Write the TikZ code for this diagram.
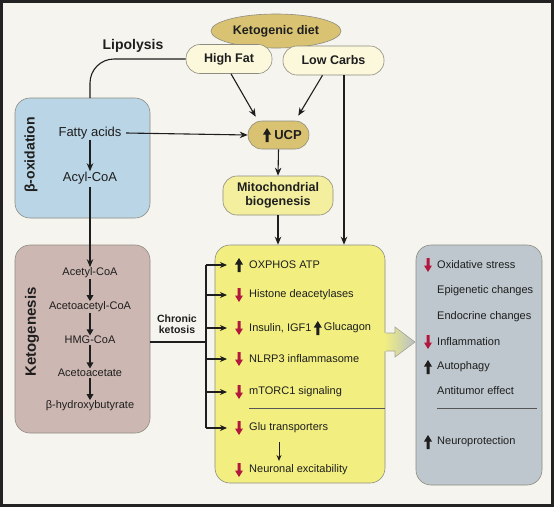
\documentclass[tikz,border=0pt]{standalone}
\usepackage{fontspec}
\setmainfont{Liberation Sans}
\usetikzlibrary{arrows.meta,shapes.geometric,calc}
\definecolor{bg}{HTML}{F5F4EF}
\definecolor{frame}{HTML}{222222}
\definecolor{tan}{HTML}{D9C372}
\definecolor{cream}{HTML}{FBF8DC}
\definecolor{paleyel}{HTML}{F3EF9E}
\definecolor{bluebox}{HTML}{BAD5E6}
\definecolor{mauve}{HTML}{CDB7B2}
\definecolor{yelbox}{HTML}{F2EF80}
\definecolor{graybox}{HTML}{BDC7CD}
\definecolor{edge}{HTML}{8E8C80}
\definecolor{redarr}{HTML}{B3173E}
\definecolor{txt}{HTML}{1E1E1E}
\begin{document}
\begin{tikzpicture}[x=1pt,y=-1pt,
  every node/.style={text=txt},
  panel/.style={draw=edge, line width=0.6pt, rounded corners=15pt, inner sep=0pt},
  pill/.style={draw=edge, line width=0.6pt, rounded corners=14pt, inner sep=0pt, font=\fontsize{12.5}{14}\selectfont\bfseries, align=center},
  lbl/.style={inner sep=0.5pt, font=\fontsize{13}{15}\selectfont},
  ket/.style={inner sep=0.5pt, font=\fontsize{11}{13}\selectfont},
  item/.style={anchor=west, inner sep=0.5pt, font=\fontsize{11}{13}\selectfont},
  arr/.style={line width=1.1pt, draw=txt, -{Stealth[length=8pt,width=6.5pt]}},
  barr/.style={line width=1.8pt, draw=txt, -{Triangle[length=6pt,width=6.5pt]}},
  conn/.style={line width=1.1pt, draw=txt},
  uparr/.pic={\fill[txt] (-1.5,7) -- (-1.5,-0.5) -- (-4,-0.5) -- (0,-7) -- (4,-0.5) -- (1.5,-0.5) -- (1.5,7) -- cycle;},
  dnarr/.pic={\fill[redarr] (-1.5,-7) -- (-1.5,0.5) -- (-4,0.5) -- (0,7) -- (4,0.5) -- (1.5,0.5) -- (1.5,-7) -- cycle;}
]
\useasboundingbox (0,0) rectangle (554,507);
\fill[bg] (0,0) rectangle (554,507);
\draw[frame, line width=2.6pt] (1.3,1.3) rectangle (552.7,505.7);

% top
\node[ellipse, fill=tan, draw=edge, line width=0.6pt, minimum width=130, minimum height=34, inner sep=0pt,
      font=\fontsize{12.5}{14}\selectfont\bfseries] (kd) at (276,31) {\raisebox{3pt}{Ketogenic diet}};
\node[pill, fill=cream, minimum width=86, minimum height=29] (hf) at (229,59) {High Fat};
\node[pill, fill=cream, minimum width=101, minimum height=29] (lc) at (333.5,60.5) {Low Carbs};
\node[font=\fontsize{14}{16}\selectfont\bfseries, inner sep=0pt] (lipo) at (133,46) {Lipolysis};

% beta oxidation
\node[panel, fill=bluebox, minimum width=135, minimum height=120] (beta) at (82.5,158) {};
\node[rotate=90, font=\fontsize{14}{16}\selectfont\bfseries, inner sep=0pt] (betat) at (31,155) {β-oxidation};
\node[lbl] (fa) at (90,133) {Fatty acids};
\node[lbl] (acyl) at (90,178) {Acyl-CoA};
\coordinate (betatop) at (90,98);
\draw[conn, rounded corners=24pt] (hf.west) -| (betatop);
\draw[arr] (fa.south) -- (acyl.north);

% UCP and mito
\node[pill, fill=tan, minimum width=61, minimum height=28] (ucp) at (278.5,135) {};
\node[font=\fontsize{13}{15}\selectfont\bfseries, inner sep=0pt] (ucpt) at (288,135) {UCP};
\pic at (267,135) {uparr};
\node[pill, fill=paleyel, minimum width=110, minimum height=39, font=\fontsize{12.5}{14.5}\selectfont\bfseries] (mito) at (278,195.5) {Mitochondrial\\biogenesis};

\draw[arr] ($(hf.south)+(2,0)$) -- ($(ucp.north west)+(8,-4)$);
\draw[arr] ($(lc.south)+(-11,0)$) -- ($(ucp.north east)+(-11,-5)$);
\draw[arr] ($(fa.east)+(4,0)$) -- (ucp.west);
\draw[arr] (ucp.south) -- (mito.north);

% yellow box
\node[panel, fill=yelbox, minimum width=170, minimum height=238] (yel) at (300,364) {};
\draw[arr] (mito.south) -- (mito.south |- yel.north);
\coordinate (lcs) at ($(lc.south)+(10.5,0)$);
\draw[arr] (lcs) -- (lcs |- yel.north);

% ketogenesis
\node[panel, fill=mauve, minimum width=135, minimum height=188] (keto) at (82.5,339) {};
\node[rotate=90, font=\fontsize{15}{17}\selectfont\bfseries, inner sep=0pt] (ketot) at (32,332) {Ketogenesis};
\node[ket] (k1) at (90,273) {Acetyl-CoA};
\node[ket] (k2) at (90,307) {Acetoacetyl-CoA};
\node[ket] (k3) at (90,340) {HMG-CoA};
\node[ket] (k4) at (90,373) {Acetoacetate};
\node[ket] (k5) at (90,406) {β-hydroxybutyrate};
\draw[arr] ($(acyl.south)+(0,2)$) -- (k1.north);
\draw[barr] (k1.south) -- (k2.north);
\draw[barr] (k2.south) -- (k3.north);
\draw[barr] (k3.south) -- (k4.north);
\draw[barr] (k4.south) -- (k5.north);

% chronic ketosis bus
\node[font=\fontsize{10.5}{11.5}\selectfont\bfseries, align=center, inner sep=0pt] (ck) at (177,324) {Chronic\\ketosis};
\coordinate (kout) at (150,342);
\coordinate (bus) at (206,342);
\coordinate (bustop) at (206,265);
\coordinate (busbot) at (206,428);
\draw[conn] (kout) -- (bus);
\draw[conn] (bustop) -- (busbot);
\foreach \y [count=\i] in {265,295,328,359,392,428} {
  \coordinate (bs\i) at (206,\y);
  \coordinate (be\i) at (227,\y);
  \draw[line width=1.1pt, draw=txt, -{Stealth[length=7pt,width=6pt]}] (bs\i) -- (be\i);
}

% yellow items
\pic at (239,265) {uparr};
\node[item] (y1) at (248.5,265) {OXPHOS ATP};
\pic at (239,295) {dnarr};
\node[item] (y2) at (248.5,295) {Histone deacetylases};
\pic at (239,328) {dnarr};
\node[item] (y3) at (248.5,328) {Insulin, IGF1};
\pic at ($(y3.east)+(5.5,0)$) {uparr};
\node[item] (y3b) at ($(y3.east)+(11,0)$) {Glucagon};
\pic at (239,359) {dnarr};
\node[item] (y4) at (248.5,359) {NLRP3 inflammasome};
\pic at (239,392) {dnarr};
\node[item] (y5) at (248.5,392) {mTORC1 signaling};
\coordinate (ysepl) at (249,408);
\coordinate (ysepr) at (385,408);
\draw[line width=0.7pt, draw=txt!75] (ysepl) -- (ysepr);
\pic at (239,428) {dnarr};
\node[item] (y6) at (248.5,428) {Glu transporters};
\pic at (239,470) {dnarr};
\node[item] (y7) at (248.5,470) {Neuronal excitability};
\coordinate (sa) at (279,442);
\coordinate (sb) at (279,461);
\draw[line width=1pt, draw=txt, -{Stealth[length=6pt,width=5pt]}] (sa) -- (sb);

% big arrow
\shade[left color=yelbox, right color=graybox!90!gray] (384,333) -- (395,333) -- (395,327) -- (415,342) -- (395,357) -- (395,351) -- (384,351) -- cycle;
\draw[draw=edge!80, line width=0.6pt] (386,333) -- (395,333) -- (395,327) -- (415,342) -- (395,357) -- (395,351) -- (386,351);

% gray box
\node[panel, fill=graybox, minimum width=126, minimum height=240] (gry) at (479,365) {};
\pic at (428,265) {dnarr};
\node[item] (g1) at (436.5,265) {Oxidative stress};
\node[item] (g2) at (436.5,291) {Epigenetic changes};
\node[item] (g3) at (436.5,317) {Endocrine changes};
\pic at (428,342) {dnarr};
\node[item] (g4) at (436.5,342) {Inflammation};
\pic at (428,367) {uparr};
\node[item] (g5) at (436.5,367) {Autophagy};
\node[item] (g6) at (436.5,391) {Antitumor effect};
\coordinate (gsepl) at (437,408);
\coordinate (gsepr) at (537,408);
\draw[line width=0.7pt, draw=txt!75] (gsepl) -- (gsepr);
\pic at (428,442) {uparr};
\node[item] (g7) at (436.5,442) {Neuroprotection};
\end{tikzpicture}
\end{document}
